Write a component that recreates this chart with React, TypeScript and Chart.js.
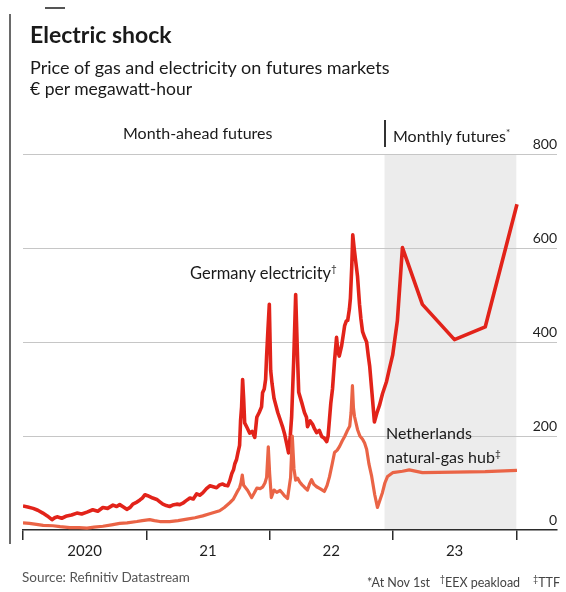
import { useEffect, useRef } from "react";
import { Chart, registerables } from "chart.js";

Chart.register(...registerables);

// Germany electricity, month-ahead then monthly futures (€ per MWh)
const elecDates = [
  "2020-01-01", "2020-01-15", "2020-01-31", "2020-02-14", "2020-02-29", "2020-03-13",
  "2020-03-27", "2020-04-04", "2020-04-11", "2020-04-25", "2020-05-10", "2020-05-24",
  "2020-06-09", "2020-06-23", "2020-07-09", "2020-07-26", "2020-08-10", "2020-08-25",
  "2020-09-08", "2020-09-24", "2020-10-05", "2020-10-14", "2020-10-25", "2020-11-04",
  "2020-11-14", "2020-11-22", "2020-12-01", "2020-12-13", "2020-12-20", "2020-12-28",
  "2021-01-05", "2021-01-11", "2021-01-20", "2021-02-01", "2021-02-10", "2021-02-19",
  "2021-03-01", "2021-03-11", "2021-03-20", "2021-04-01", "2021-04-10", "2021-04-19",
  "2021-04-28", "2021-05-10", "2021-05-20", "2021-05-30", "2021-06-08", "2021-06-17",
  "2021-06-28", "2021-07-08", "2021-07-18", "2021-07-28", "2021-08-06", "2021-08-15",
  "2021-08-22", "2021-08-30", "2021-09-05", "2021-09-11", "2021-09-16", "2021-09-20",
  "2021-09-25", "2021-09-29", "2021-10-04", "2021-10-07", "2021-10-10", "2021-10-13",
  "2021-10-16", "2021-10-19", "2021-10-26", "2021-11-03", "2021-11-10", "2021-11-18",
  "2021-11-24", "2021-12-01", "2021-12-08", "2021-12-11", "2021-12-16", "2021-12-20",
  "2021-12-23", "2021-12-27", "2021-12-31", "2022-01-04", "2022-01-08", "2022-01-14",
  "2022-01-25", "2022-02-01", "2022-02-08", "2022-02-14", "2022-02-20", "2022-02-26",
  "2022-03-03", "2022-03-07", "2022-03-13", "2022-03-19", "2022-03-25", "2022-03-28",
  "2022-04-06", "2022-04-14", "2022-04-20", "2022-04-23", "2022-05-01", "2022-05-08",
  "2022-05-14", "2022-05-20", "2022-05-28", "2022-06-04", "2022-06-12", "2022-06-19",
  "2022-06-23", "2022-06-27", "2022-07-01", "2022-07-06", "2022-07-12", "2022-07-18",
  "2022-07-22", "2022-07-26", "2022-08-02", "2022-08-08", "2022-08-11", "2022-08-16",
  "2022-08-20", "2022-08-25", "2022-08-28", "2022-09-01", "2022-09-04", "2022-09-08",
  "2022-09-13", "2022-09-18", "2022-09-24", "2022-09-28", "2022-10-03", "2022-10-09",
  "2022-10-15", "2022-10-20", "2022-10-24", "2022-10-31", "2022-11-07", "2022-11-14",
  "2022-11-22", "2022-12-01", "2022-12-13", "2022-12-22", "2022-12-31", "2023-01-14",
  "2023-01-29", "2023-03-29", "2023-07-02", "2023-10-01", "2024-01-03",
];
const elecValues = [
  51, 49, 46, 42, 36, 30,
  22, 26, 28, 25, 30, 32,
  36, 34, 38, 43, 40, 48,
  46, 53, 50, 54, 49, 44,
  48, 55, 58, 64, 68, 75,
  73, 71, 68, 65, 60, 55,
  52, 50, 53, 55, 54, 57,
  62, 68, 66, 77, 74, 79,
  88, 94, 92, 90, 96, 98,
  95, 94, 105, 120, 128, 141,
  150, 164, 180, 234, 262, 320,
  280, 228, 218, 206, 210, 197,
  240, 250, 262, 292, 300, 320,
  370, 427, 480, 340, 312, 280,
  250, 235, 220, 205, 185, 164,
  200, 240, 357, 501, 357, 293,
  271, 250, 240, 220, 232, 225,
  215, 207, 212, 199, 195, 188,
  200, 235, 270, 300, 360, 410,
  380, 370, 392, 420, 435, 445,
  446, 470, 493, 560, 628, 600,
  570, 540, 480, 450, 422, 410,
  400, 370, 349, 290, 230, 248,
  265, 290, 316, 345, 372, 445,
  601, 480, 405, 432, 693,
];

// Netherlands TTF natural-gas hub (€ per MWh)
const gasDates = [
  "2020-01-01", "2020-01-20", "2020-02-10", "2020-03-01", "2020-03-30", "2020-04-20",
  "2020-05-19", "2020-06-15", "2020-07-09", "2020-07-30", "2020-08-25", "2020-09-20",
  "2020-10-14", "2020-11-05", "2020-12-04", "2020-12-20", "2021-01-11", "2021-01-25",
  "2021-02-10", "2021-03-11", "2021-04-05", "2021-05-01", "2021-05-25", "2021-06-17",
  "2021-07-10", "2021-08-06", "2021-08-20", "2021-09-05", "2021-09-15", "2021-09-26",
  "2021-10-04", "2021-10-08", "2021-10-12", "2021-10-16", "2021-10-28", "2021-11-04",
  "2021-11-09", "2021-11-16", "2021-11-24", "2021-12-04", "2021-12-11", "2021-12-18",
  "2021-12-23", "2021-12-28", "2022-01-01", "2022-01-06", "2022-01-14", "2022-01-22",
  "2022-02-01", "2022-02-08", "2022-02-15", "2022-02-23", "2022-03-04", "2022-03-09",
  "2022-03-14", "2022-03-19", "2022-03-25", "2022-03-31", "2022-04-07", "2022-04-14",
  "2022-04-23", "2022-04-29", "2022-05-05", "2022-05-12", "2022-05-20", "2022-05-30",
  "2022-06-12", "2022-06-20", "2022-06-27", "2022-07-05", "2022-07-12", "2022-07-20",
  "2022-07-27", "2022-08-04", "2022-08-11", "2022-08-18", "2022-08-26", "2022-08-30",
  "2022-09-03", "2022-09-06", "2022-09-09", "2022-09-18", "2022-09-25", "2022-10-03",
  "2022-10-09", "2022-10-15", "2022-10-22", "2022-10-30", "2022-11-08", "2022-11-16",
  "2022-11-24", "2022-12-01", "2022-12-08", "2022-12-16", "2022-12-31", "2023-01-29",
  "2023-02-18", "2023-03-29", "2023-07-02", "2023-10-01", "2024-01-03",
];
const gasValues = [
  15, 14, 12, 10, 9, 7,
  5, 5, 4, 6, 8, 11,
  14, 15, 18, 20, 22, 20,
  18, 18, 20, 23, 26, 30,
  35, 41, 48, 58, 65, 80,
  90, 100, 117, 95, 84, 75,
  69, 78, 89, 88, 91, 100,
  112, 177, 120, 69, 85, 80,
  84, 78, 72, 67, 112, 200,
  130, 106, 110, 102, 96, 91,
  85, 98, 107, 97, 92, 88,
  82, 95, 113, 140, 165, 170,
  178, 190, 199, 210, 221, 250,
  307, 260, 242, 214, 200, 193,
  185, 172, 140, 114, 75, 48,
  65, 80, 100, 114, 122, 125,
  128, 122, 123, 124, 127,
];

const yearTicks = [2020, 2021, 2022, 2023, 2024];
const yearLabels = ["2020", "21", "22", "23", ""];
const priceTicks = [0, 200, 400, 600, 800];
const futuresFrom = "2022-12-07";
const futuresTo = "2024-01-01";

const ELEC_RED = "#e2231a";
const GAS_ORANGE = "#ea6446";
const FONT = "Lato, 'Noto Sans', sans-serif";

// Convert an ISO date to a fractional year for the linear time axis
function toYear(d: string): number {
  const [y, m, day] = d.split("-").map(Number);
  const start = Date.UTC(y, 0, 1);
  const end = Date.UTC(y + 1, 0, 1);
  return y + (Date.UTC(y, m - 1, day) - start) / (end - start);
}

// Grey band behind the monthly-futures period
const futuresBand = {
  id: "futuresBand",
  beforeDraw(chart: any) {
    const { ctx, scales } = chart;
    const x = scales.x;
    const y = scales.y;
    const x0 = x.getPixelForValue(toYear(futuresFrom));
    const x1 = x.getPixelForValue(toYear(futuresTo));
    ctx.save();
    ctx.fillStyle = "#ececec";
    ctx.fillRect(x0, y.top, x1 - x0, y.bottom - y.top);
    ctx.restore();
  },
};

function PriceChart() {
  const canvasRef = useRef<HTMLCanvasElement | null>(null);

  useEffect(() => {
    const canvas = canvasRef.current;
    if (!canvas) return;
    Chart.defaults.font.family = FONT;

    const chart = new Chart(canvas, {
      type: "line",
      data: {
        datasets: [
          {
            label: "Netherlands natural-gas hub",
            data: gasDates.map((d, i) => ({ x: toYear(d), y: gasValues[i] })),
            borderColor: GAS_ORANGE,
            borderWidth: 3.2,
            pointRadius: 0,
            tension: 0,
            borderJoinStyle: "round",
          },
          {
            label: "Germany electricity",
            data: elecDates.map((d, i) => ({ x: toYear(d), y: elecValues[i] })),
            borderColor: ELEC_RED,
            borderWidth: 3.6,
            pointRadius: 0,
            tension: 0,
            borderJoinStyle: "round",
          },
        ],
      },
      options: {
        animation: false,
        responsive: false,
        maintainAspectRatio: false,
        events: [],
        layout: { padding: { left: 23, right: 9, top: 154, bottom: 30 } },
        plugins: {
          legend: { display: false },
          tooltip: { enabled: false },
        },
        scales: {
          x: {
            type: "linear",
            min: 2020,
            max: 2024.33,
            afterBuildTicks: (s: any) => {
              s.ticks = yearTicks.map((v) => ({ value: v }));
            },
            grid: {
              drawOnChartArea: false,
              drawTicks: true,
              tickLength: 10,
              color: "#2b2b2b",
              lineWidth: 1.5,
            },
            border: { display: true, color: "#2b2b2b", width: 1.5 },
            ticks: {
              autoSkip: false,
              maxRotation: 0,
              labelOffset: 61.6,
              padding: 2,
              color: "#1f1f1f",
              font: { size: 15 },
              callback: (v: any) => {
                const i = yearTicks.indexOf(Number(v));
                return i >= 0 ? yearLabels[i] : "";
              },
            },
          },
          y: {
            position: "right",
            min: 0,
            max: 800,
            afterBuildTicks: (s: any) => {
              s.ticks = priceTicks.map((v) => ({ value: v }));
            },
            grid: {
              drawTicks: false,
              lineWidth: 1,
              color: (c: any) => (c.tick && c.tick.value === 0 ? "rgba(0,0,0,0)" : "#c6c6c6"),
            },
            border: { display: false },
            ticks: {
              mirror: true,
              padding: 0,
              labelOffset: -10,
              color: "#1f1f1f",
              font: { size: 14 },
            },
          },
        },
      },
      plugins: [futuresBand],
    });

    return () => chart.destroy();
  }, []);

  return (
    <canvas
      ref={canvasRef}
      width={566}
      height={592}
      style={{ position: "absolute", left: 0, top: 0, width: 566, height: 592 }}
    />
  );
}

const abs = (left: number, top: number, extra: Record<string, any> = {}) => ({
  position: "absolute" as const,
  left,
  top,
  whiteSpace: "nowrap" as const,
  lineHeight: 1,
  ...extra,
});

export default function App() {
  return (
    <div
      style={{
        position: "fixed",
        left: 0,
        top: 0,
        width: 566,
        height: 592,
        background: "#ffffff",
        fontFamily: FONT,
        color: "#1a1a1a",
        overflow: "hidden",
      }}
    >
      <PriceChart />
      {/* page edge and header rule */}
      <div style={{ position: "absolute", left: 9, top: 14, width: 2, height: 530, background: "#6a6a6a" }} />
      <div style={{ position: "absolute", left: 45, top: 7, width: 20, height: 2, background: "#555" }} />

      <div style={abs(30, 23, { fontSize: 23, fontWeight: 700 })}>Electric shock</div>
      <div style={abs(30, 58, { fontSize: 18 })}>Price of gas and electricity on futures markets</div>
      <div style={abs(30, 80, { fontSize: 17.5 })}>€ per megawatt-hour</div>

      <div style={abs(123, 125, { fontSize: 16 })}>Month-ahead futures</div>
      <div style={{ position: "absolute", left: 384, top: 120, width: 1.5, height: 27, background: "#333" }} />
      <div style={abs(393, 127, { fontSize: 16 })}>
        Monthly futures<sup style={{ fontSize: 10 }}>*</sup>
      </div>

      <div style={abs(190, 263, { fontSize: 16.5 })}>
        Germany electricity<sup style={{ fontSize: 10 }}>†</sup>
      </div>
      <div style={abs(386, 423, { fontSize: 16, lineHeight: "20px" })}>
        Netherlands
        <br />
        natural-gas hub<sup style={{ fontSize: 10 }}>‡</sup>
      </div>

      <div style={abs(22, 571, { fontSize: 13.5, color: "#555" })}>Source: Refinitiv Datastream</div>
      <div style={abs(320, 574, { fontSize: 12.5, color: "#444", width: 240, textAlign: "right" })}>
        *At Nov 1st &nbsp;&nbsp;<sup style={{ fontSize: 9 }}>†</sup>EEX peakload &nbsp;&nbsp;&nbsp;<sup style={{ fontSize: 9 }}>‡</sup>TTF
      </div>
    </div>
  );
}
